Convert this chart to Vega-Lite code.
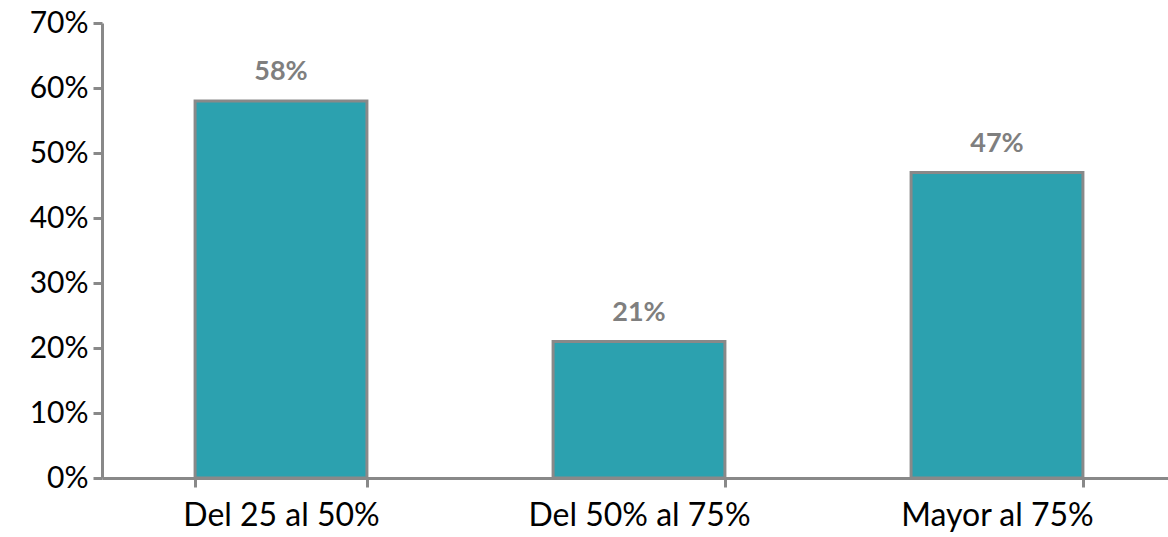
{
  "$schema": "https://vega.github.io/schema/vega-lite/v6.json",
  "width": 1074,
  "height": 455,
  "padding": {"left": 102, "top": 23, "right": 0, "bottom": 59},
  "autosize": {"type": "none"},
  "background": "white",
  "config": {"view": {"stroke": null}, "font": "Lato"},
  "data": {"values": [
    {"categoria": "Del 25 al 50%", "valor": 0.58},
    {"categoria": "Del 50% al 75%", "valor": 0.21},
    {"categoria": "Mayor al 75%", "valor": 0.47}
  ]},
  "encoding": {
    "x": {"field": "categoria", "type": "nominal", "sort": null,
      "scale": {"paddingInner": 0.52, "paddingOuter": 0.26},
      "axis": {"title": null, "labelAngle": 0, "labelFontSize": 32, "labelLimit": 0, "labelColor": "#000000", "labelPadding": 13,
        "domainColor": "#898989", "domainWidth": 3, "tickColor": "#898989", "tickWidth": 3, "tickSize": 9,
        "tickBand": "extent", "labelFont": "Lato"}},
    "y": {"field": "valor", "type": "quantitative",
      "scale": {"domain": [0, 0.7], "nice": false},
      "axis": {"title": null, "format": ".0%", "values": [0, 0.1, 0.2, 0.3, 0.4, 0.5, 0.6, 0.7], "grid": false,
        "labelFontSize": 30, "labelColor": "#000000", "labelPadding": 5,
        "domainColor": "#898989", "domainWidth": 3, "tickColor": "#898989", "tickWidth": 3, "tickSize": 9, "labelFont": "Lato"}}
  },
  "layer": [
    {"mark": {"type": "bar", "color": "#2CA1AF", "stroke": "#898989", "strokeWidth": 3}},
    {"mark": {"type": "text", "dy": -29, "fontSize": 27, "fontWeight": "bold", "color": "#7F7F7F", "font": "Lato"},
      "encoding": {"text": {"field": "valor", "type": "quantitative", "format": ".0%"}}}
  ]
}
